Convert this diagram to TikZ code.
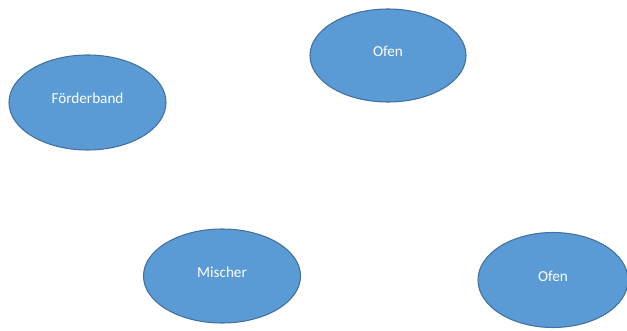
\documentclass[tikz,border=0pt]{standalone}
\usepackage{fontspec}
\setmainfont{Carlito}
\usetikzlibrary{shapes.geometric}

\definecolor{stationfill}{HTML}{5B9BD5}
\definecolor{stationline}{HTML}{41719C}

\tikzset{
  station/.style={ellipse, draw=stationline, fill=stationfill, line width=0.8pt,
    text=white, font=\fontsize{11.4}{13}\selectfont, inner sep=0pt,
    text height=4pt, text depth=2pt, anchor=center}
}

\begin{document}
\begin{tikzpicture}[x=0.75pt, y=-0.75pt]

% Canvas
\useasboundingbox (0,0) rectangle (627,331);

% Stations
\node[station, minimum width=157*0.75pt, minimum height=95*0.75pt] (band) at (87.5,102.5) {Förderband};
\node[station, minimum width=156*0.75pt, minimum height=93*0.75pt] (ofenA) at (388,55.5) {Ofen};
\node[station, minimum width=157*0.75pt, minimum height=94*0.75pt] (mischer) at (222,276) {Mischer};
\node[station, minimum width=150*0.75pt, minimum height=95*0.75pt] (ofenB) at (553,280) {Ofen};

\end{tikzpicture}
\end{document}
